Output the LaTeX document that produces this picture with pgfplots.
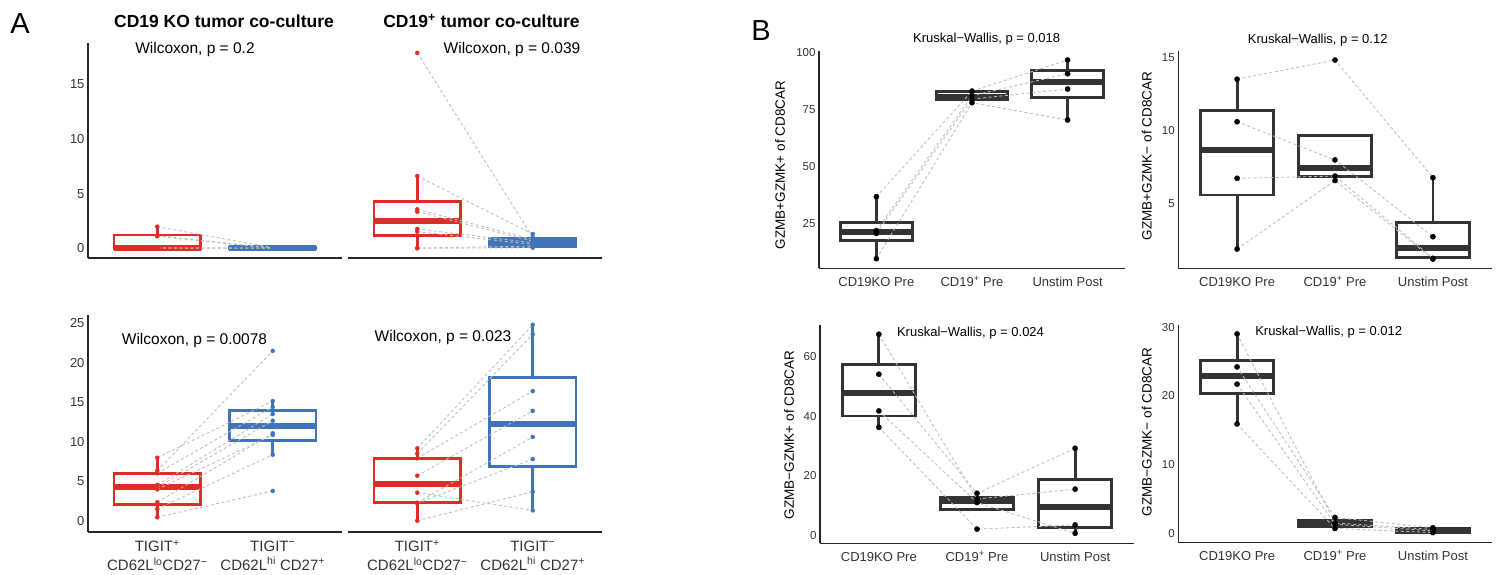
\documentclass[border=0pt]{standalone}
\usepackage{fontspec}
\setmainfont{Liberation Sans}
\usepackage{pgfplots}
\pgfplotsset{compat=1.18}
\usepgfplotslibrary{statistics}

\definecolor{aRed}{RGB}{222,45,38}
\definecolor{aBlue}{RGB}{64,116,184}
\definecolor{bGray}{RGB}{51,51,51}
\definecolor{pairGray}{RGB}{190,190,190}

\newcommand{\fTitle}{\fontsize{17.5}{20}\selectfont\bfseries}
\newcommand{\fWil}{\fontsize{15.5}{18}\selectfont}
\newcommand{\fKW}{\fontsize{13}{15}\selectfont}
\newcommand{\fLab}{\fontsize{13.5}{16}\selectfont}

\pgfplotsset{
  base/.style={scale only axis, clip=false,
    axis lines*=left, axis line style={-, line width=1.2pt, black!85},
    major tick length=0pt,
    /pgf/number format/assume math mode=true},
  apanel/.style={base, width=254pt, xmin=0.4, xmax=2.6,
    tick label style={font=\fontsize{13}{15}\selectfont, text=black!80}},
  bpanel/.style={base, xmin=0.4, xmax=3.6, xtick={1,2,3},
    xticklabels={CD19KO Pre, CD19\textsuperscript{+} Pre, Unstim Post},
    yticklabel style={font=\fontsize{11.5}{13}\selectfont, text=black!80},
    xticklabel style={font=\fontsize{13}{15}\selectfont, text=black!80,
      text height=9.5pt, text depth=2pt, yshift=-5pt}},
  pair/.style={pairGray, line width=0.9pt, dash pattern=on 3pt off 2.5pt},
  boxplot/every median/.style={line width=5.8pt},
}
% colour, position, lower whisker, lower quartile, median, upper quartile, upper whisker
\newcommand{\bx}[7]{\addplot[#1, line width=2.9pt, boxplot/draw direction=y,
  boxplot prepared={draw position=#2,
  lower whisker=#3, lower quartile=#4, median=#5, upper quartile=#6, upper whisker=#7,
  box extend=0.75, whisker extend=0}] coordinates {};}

\begin{document}
\begin{tikzpicture}
\useasboundingbox (0pt,0pt) rectangle (1497pt,575pt);

% ---------- A, top left: CD19 KO tumor co-culture
\begin{axis}[apanel, at={(88pt,317pt)}, anchor=south west, height=215pt,
  ymin=-0.89, ymax=18.8, ytick={0,5,10,15}, xtick=\empty]
\bx{aRed}{1}{0}{0}{0.02}{1.22}{1.98}
\bx{aBlue}{2}{0}{0}{0.02}{0.08}{0.1}
\addplot[pair] coordinates {(1,1.98)(2,0.05)};
\addplot[pair] coordinates {(1,1.15)(2,0.03)};
\addplot[pair] coordinates {(1,1.10)(2,0)};
\addplot[pair] coordinates {(1,0.05)(2,0.02)};
\addplot[pair] coordinates {(1,0)(2,0.01)};
\addplot[only marks, mark=*, mark size=2pt, aRed] coordinates {(1,1.98)(1,1.15)(1,1.10)(1,0.05)(1,0.02)(1,0)};
\addplot[only marks, mark=*, mark size=2pt, aBlue] coordinates {(2,0.05)(2,0.03)(2,0)(2,0.02)(2,0.01)};
\end{axis}

% ---------- A, top right: CD19+ tumor co-culture
\begin{axis}[apanel, at={(348pt,317pt)}, anchor=south west, height=215pt,
  ymin=-0.89, ymax=18.8, axis y line=none, axis x line*=bottom, ytick=\empty, xtick=\empty]
\bx{aRed}{1}{0}{1.13}{2.53}{4.26}{6.62}
\bx{aBlue}{2}{0.02}{0.14}{0.5}{0.87}{1.31}
\addplot[pair] coordinates {(1,17.9)(2,1.0)};
\addplot[pair] coordinates {(1,6.62)(2,1.3)};
\addplot[pair] coordinates {(1,3.57)(2,0.8)};
\addplot[pair] coordinates {(1,3.35)(2,0.65)};
\addplot[pair] coordinates {(1,1.77)(2,0.5)};
\addplot[pair] coordinates {(1,1.52)(2,0.35)};
\addplot[pair] coordinates {(1,0.02)(2,0.2)};
\addplot[pair] coordinates {(1,0)(2,0.05)};
\addplot[only marks, mark=*, mark size=2pt, aRed] coordinates {(1,17.9)(1,6.62)(1,3.57)(1,3.35)(1,1.77)(1,1.52)(1,0.02)(1,0)};
\addplot[only marks, mark=*, mark size=2pt, aBlue] coordinates {(2,1.0)(2,1.3)(2,0.8)(2,0.65)(2,0.5)(2,0.35)(2,0.2)(2,0.05)};
\end{axis}

% ---------- A, bottom left
\begin{axis}[apanel, at={(88pt,43pt)}, anchor=south west, height=217pt,
  ymin=-1.43, ymax=26.04, ytick={0,5,10,15,20,25}, xtick={1,2},
  xticklabels={{TIGIT\textsuperscript{+}\\CD62L\textsuperscript{lo}CD27\textsuperscript{−}},
               {TIGIT\textsuperscript{−}\\CD62L\textsuperscript{hi} CD27\textsuperscript{+}}},
  xticklabel style={align=center, font=\fontsize{15}{19}\selectfont, yshift=-5pt}]
\bx{aRed}{1}{0.43}{2.1}{4.23}{6.0}{7.97}
\bx{aBlue}{2}{8.35}{10.2}{12.0}{13.9}{15.15}
\addplot[pair] coordinates {(1,6.33)(2,21.5)};
\addplot[pair] coordinates {(1,7.97)(2,15.15)};
\addplot[pair] coordinates {(1,6.0)(2,14.4)};
\addplot[pair] coordinates {(1,4.52)(2,13.5)};
\addplot[pair] coordinates {(1,4.23)(2,12.66)};
\addplot[pair] coordinates {(1,2.33)(2,11.06)};
\addplot[pair] coordinates {(1,3.97)(2,10.85)};
\addplot[pair] coordinates {(1,1.48)(2,8.35)};
\addplot[pair] coordinates {(1,0.43)(2,3.76)};
\addplot[only marks, mark=*, mark size=2pt, aRed] coordinates {(1,6.33)(1,7.97)(1,6.0)(1,4.52)(1,4.23)(1,2.33)(1,3.97)(1,1.48)(1,0.43)};
\addplot[only marks, mark=*, mark size=2pt, aBlue] coordinates {(2,21.5)(2,15.15)(2,14.4)(2,13.5)(2,12.66)(2,11.06)(2,10.85)(2,8.35)(2,3.76)};
\end{axis}

% ---------- A, bottom right
\begin{axis}[apanel, at={(348pt,43pt)}, anchor=south west, height=217pt,
  ymin=-1.43, ymax=26.04, axis y line=none, axis x line*=bottom, ytick=\empty, xtick={1,2},
  xticklabels={{TIGIT\textsuperscript{+}\\CD62L\textsuperscript{lo}CD27\textsuperscript{−}},
               {TIGIT\textsuperscript{−}\\CD62L\textsuperscript{hi} CD27\textsuperscript{+}}},
  xticklabel style={align=center, font=\fontsize{15}{19}\selectfont, yshift=-5pt}]
\bx{aRed}{1}{0}{2.28}{4.6}{7.9}{9.16}
\bx{aBlue}{2}{1.3}{6.84}{12.2}{18.1}{24.8}
\addplot[pair] coordinates {(1,9.16)(2,24.8)};
\addplot[pair] coordinates {(1,8.5)(2,23.6)};
\addplot[pair] coordinates {(1,7.9)(2,16.4)};
\addplot[pair] coordinates {(1,5.7)(2,13.9)};
\addplot[pair] coordinates {(1,2.28)(2,10.6)};
\addplot[pair] coordinates {(1,2.2)(2,7.8)};
\addplot[pair] coordinates {(1,3.55)(2,1.3)};
\addplot[pair] coordinates {(1,0)(2,3.67)};
\addplot[only marks, mark=*, mark size=2pt, aRed] coordinates {(1,9.16)(1,8.5)(1,7.9)(1,5.7)(1,2.28)(1,2.2)(1,3.55)(1,0)};
\addplot[only marks, mark=*, mark size=2pt, aBlue] coordinates {(2,24.8)(2,23.6)(2,16.4)(2,13.9)(2,10.6)(2,7.8)(2,1.3)(2,3.67)};
\end{axis}

% ---------- B, top left: GZMB+GZMK+
\begin{axis}[bpanel, at={(819pt,306.7pt)}, anchor=south west, width=306pt, height=217.6pt,
  ymin=5.3, ymax=100.7, ytick={25,50,75,100}]
\bx{bGray}{1}{9.5}{17.4}{21.3}{25.4}{36.7}
\bx{bGray}{2}{77.9}{79.1}{80.5}{82.7}{83.0}
\bx{bGray}{3}{70.3}{80.3}{87.1}{92.2}{96.6}
\addplot[pair] coordinates {(1,36.7)(2,83.0)(3,96.6)};
\addplot[pair] coordinates {(1,21.8)(2,81.0)(3,90.6)};
\addplot[pair] coordinates {(1,20.6)(2,79.5)(3,83.9)};
\addplot[pair] coordinates {(1,9.5)(2,77.9)(3,70.3)};
\addplot[only marks, mark=*, mark size=2.6pt, black] coordinates {
  (1,36.7)(1,21.8)(1,20.6)(1,9.5)(2,83.0)(2,81.0)(2,79.5)(2,77.9)(3,96.6)(3,90.6)(3,83.9)(3,70.3)};
\end{axis}

% ---------- B, top right: GZMB+GZMK-
\begin{axis}[bpanel, at={(1178.3pt,306.7pt)}, anchor=south west, width=313.4pt, height=217.6pt,
  ymin=0.62, ymax=15.44, ytick={5,10,15}]
\bx{bGray}{1}{1.93}{5.61}{8.68}{11.36}{13.5}
\bx{bGray}{2}{6.6}{6.86}{7.47}{9.65}{9.65}
\bx{bGray}{3}{1.25}{1.34}{2.02}{3.75}{6.79}
\addplot[pair] coordinates {(1,13.5)(2,14.8)(3,6.79)};
\addplot[pair] coordinates {(1,10.6)(2,8.0)(3,2.77)};
\addplot[pair] coordinates {(1,6.75)(2,6.9)(3,1.3)};
\addplot[pair] coordinates {(1,1.93)(2,6.6)(3,1.25)};
\addplot[only marks, mark=*, mark size=2.6pt, black] coordinates {
  (1,13.5)(1,10.6)(1,6.75)(1,1.93)(2,14.8)(2,8.0)(2,6.9)(2,6.6)(3,6.79)(3,2.77)(3,1.3)(3,1.25)};
\end{axis}

% ---------- B, bottom left: GZMB-GZMK+
\begin{axis}[bpanel, at={(820pt,31.7pt)}, anchor=south west, width=314pt, height=218.3pt,
  ymin=-2.55, ymax=70.6, ytick={0,20,40,60}]
\bx{bGray}{1}{36.3}{40.1}{47.7}{57.5}{67.5}
\bx{bGray}{2}{8.8}{8.8}{11.7}{12.8}{14.2}
\bx{bGray}{3}{0.8}{2.8}{9.7}{18.9}{29.3}
\addplot[pair] coordinates {(1,67.5)(2,12.3)(3,15.6)};
\addplot[pair] coordinates {(1,54.1)(2,14.2)(3,29.3)};
\addplot[pair] coordinates {(1,41.8)(2,11.1)(3,0.8)};
\addplot[pair] coordinates {(1,36.3)(2,2.2)(3,3.6)};
\addplot[only marks, mark=*, mark size=2.6pt, black] coordinates {
  (1,67.5)(1,54.1)(1,41.8)(1,36.3)(2,12.3)(2,14.2)(2,11.1)(2,2.2)(3,15.6)(3,29.3)(3,0.8)(3,3.6)};
\end{axis}

% ---------- B, bottom right: GZMB-GZMK-
\begin{axis}[bpanel, at={(1178.3pt,32.7pt)}, anchor=south west, width=313.4pt, height=217.3pt,
  ymin=-1.31, ymax=30.3, ytick={0,10,20,30}]
\bx{bGray}{1}{15.9}{20.3}{22.9}{25.2}{29.0}
\bx{bGray}{2}{0.7}{1.0}{1.4}{1.8}{2.3}
\bx{bGray}{3}{0.1}{0.12}{0.45}{0.72}{0.8}
\addplot[pair] coordinates {(1,29.0)(2,1.5)(3,0.55)};
\addplot[pair] coordinates {(1,24.2)(2,2.3)(3,0.8)};
\addplot[pair] coordinates {(1,21.7)(2,1.3)(3,0.35)};
\addplot[pair] coordinates {(1,15.9)(2,0.7)(3,0.1)};
\addplot[only marks, mark=*, mark size=2.6pt, black] coordinates {
  (1,29.0)(1,24.2)(1,21.7)(1,15.9)(2,1.5)(2,2.3)(2,1.3)(2,0.7)(3,0.55)(3,0.8)(3,0.35)(3,0.1)};
\end{axis}

% ---------- texts
\node[font=\fontsize{29}{32}\selectfont] at (20pt,551pt) {A};
\node[font=\fontsize{29}{32}\selectfont] at (761pt,544pt) {B};
\node[font=\fTitle, anchor=base] at (224pt,547.7pt) {CD19 KO tumor co-culture};
\node[font=\fTitle, anchor=base] at (481.5pt,547.7pt) {CD19\textsuperscript{+} tumor co-culture};
\node[font=\fWil, anchor=base] at (195pt,521.7pt) {Wilcoxon, p = 0.2};
\node[font=\fWil, anchor=base] at (512pt,521.7pt) {Wilcoxon, p = 0.039};
\node[font=\fWil, anchor=base] at (194.5pt,230.7pt) {Wilcoxon, p = 0.0078};
\node[font=\fWil, anchor=base] at (443pt,233.3pt) {Wilcoxon, p = 0.023};
\node[font=\fKW, anchor=base] at (986.7pt,532pt) {Kruskal−Wallis, p = 0.018};
\node[font=\fKW, anchor=base] at (1317.7pt,531pt) {Kruskal−Wallis, p = 0.12};
\node[font=\fKW, anchor=base] at (970.5pt,238.3pt) {Kruskal−Wallis, p = 0.024};
\node[font=\fKW, anchor=base] at (1328.7pt,239pt) {Kruskal−Wallis, p = 0.012};
\node[font=\fLab, rotate=90] at (780pt,410pt) {GZMB+GZMK+ of CD8CAR};
\node[font=\fLab, rotate=90] at (1146.7pt,419pt) {GZMB+GZMK− of  CD8CAR};
\node[font=\fLab, rotate=90] at (789pt,140pt) {GZMB−GZMK+ of  CD8CAR};
\node[font=\fLab, rotate=90] at (1146.7pt,143pt) {GZMB−GZMK− of  CD8CAR};
\end{tikzpicture}
\end{document}
